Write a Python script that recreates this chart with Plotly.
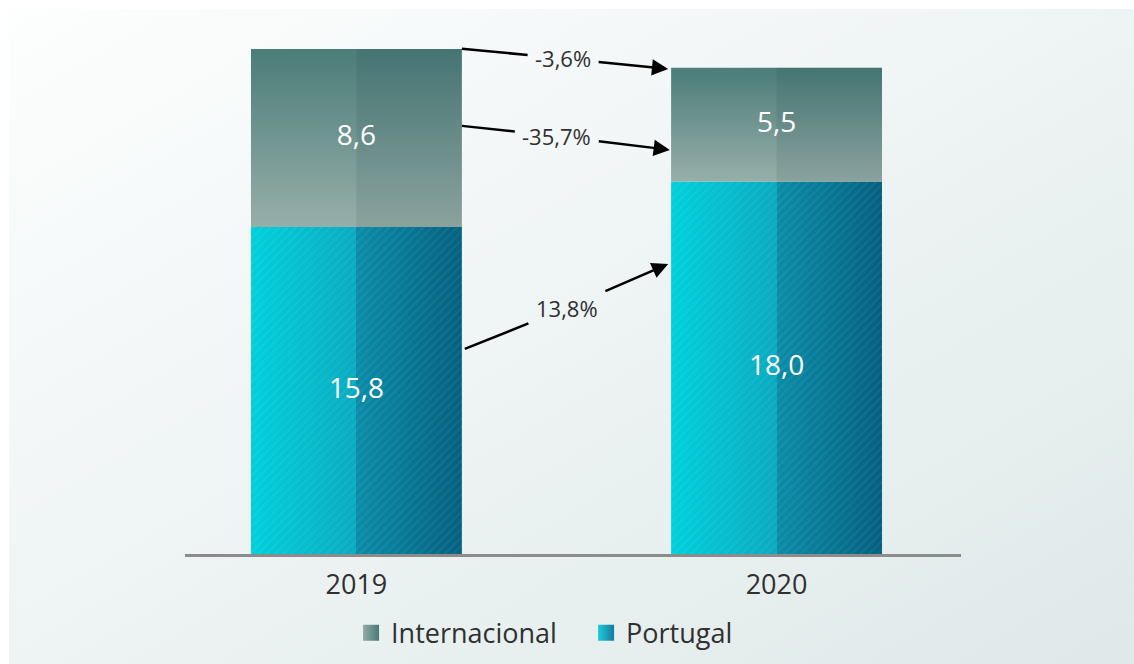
import base64
import numpy as np
import plotly.graph_objects as go

# ---- data -------------------------------------------------------------
years = ["2019", "2020"]
portugal = [15.8, 18.0]
internacional = [8.6, 5.5]

# growth labels: (text, tail point, label point, head point) in axis units
change_labels = ["-3,6%", "-35,7%", "13,8%"]
change_tail = [(0.251, 24.42), (0.251, 20.69), (0.258, 9.91)]
change_text = [(0.492, 23.95), (0.477, 20.20), (0.501, 11.89)]
change_head = [(0.742, 23.44), (0.746, 19.53), (0.742, 14.02)]

BAR_W = 0.502
FONT = "Open Sans"
TXT = "#303030"


def fmt(v):
    return f"{v:.1f}".replace(".", ",")


def rect(i, y0, y1, x0=None, x1=None):
    x0 = i - BAR_W / 2 if x0 is None else x0
    x1 = i + BAR_W / 2 if x1 is None else x1
    return [x0, x1, x1, x0, x0], [y0, y0, y1, y1, y0]


fig = go.Figure()

# legend entries (square swatches with a left-to-right gradient)
fig.add_trace(go.Scatter(
    x=[None], y=[None], mode="markers", name="Internacional",
    marker=dict(symbol="square", size=16, color="#93aaa5",
                gradient=dict(type="horizontal", color="#4a7a76")),
))
fig.add_trace(go.Scatter(
    x=[None], y=[None], mode="markers", name="Portugal",
    marker=dict(symbol="square", size=16, color="#1fcbdb",
                gradient=dict(type="horizontal", color="#157b9c")),
))

for i in range(len(years)):
    p = portugal[i]
    t = portugal[i] + internacional[i]

    # Portugal segment: cyan to deep teal, darker right half
    xs, ys = rect(i, 0, p)
    fig.add_trace(go.Scatter(
        x=xs, y=ys, mode="lines", line=dict(width=0), fill="toself",
        fillgradient=dict(type="horizontal", colorscale=[
            [0, "#00d0dc"], [0.5, "#09aac0"], [0.5, "#0a8ca8"], [1, "#04607f"]]),
        showlegend=False, hoverinfo="skip",
    ))
    # fine diagonal texture on Portugal
    fig.add_trace(go.Scatter(
        x=xs, y=ys, mode="lines", line=dict(width=0), fill="toself",
        fillcolor="rgba(0,0,0,0)",
        fillpattern=dict(shape="/", fgcolor="#ffffff", fgopacity=0.06,
                         bgcolor="rgba(0,0,0,0)", size=6, solidity=0.35),
        showlegend=False, hoverinfo="skip",
    ))

    # Internacional segment: vertical grey-green gradient
    xs, ys = rect(i, p, t)
    fig.add_trace(go.Scatter(
        x=xs, y=ys, mode="lines", line=dict(width=0), fill="toself",
        fillgradient=dict(type="vertical", colorscale=[
            [0, "#97aea9"], [1, "#4b7d79"]]),
        showlegend=False, hoverinfo="skip",
    ))
    # slightly darker right half
    xs, ys = rect(i, p, t, x0=i)
    fig.add_trace(go.Scatter(
        x=xs, y=ys, mode="lines", line=dict(width=0), fill="toself",
        fillcolor="rgba(0,30,40,0.08)",
        showlegend=False, hoverinfo="skip",
    ))

# values inside the segments
fig.add_trace(go.Scatter(
    x=list(range(len(years))) * 2,
    y=[v / 2 for v in portugal] + [p + v / 2 for p, v in zip(portugal, internacional)],
    text=[fmt(v) for v in portugal] + [fmt(v) for v in internacional],
    mode="text", textfont=dict(family=FONT, size=28, color="#ffffff"),
    showlegend=False, hoverinfo="skip",
))

# growth arrows: label breaks the line, head points at 2020 bar
for lab, tail, mid, head in zip(change_labels, change_tail, change_text, change_head):
    common = dict(xref="x", yref="y", axref="x", ayref="y",
                  ax=mid[0], ay=mid[1], text=lab, showarrow=True,
                  arrowcolor="#000000", arrowwidth=2.5, borderpad=7)
    fig.add_annotation(x=head[0], y=head[1], arrowhead=2, arrowsize=1.3,
                       font=dict(family=FONT, size=22, color=TXT), **common)
    fig.add_annotation(x=tail[0], y=tail[1], arrowhead=0,
                       font=dict(family=FONT, size=22, color="rgba(0,0,0,0)"), **common)

# soft diagonal panel background
svg = (
    '<svg xmlns="http://www.w3.org/2000/svg" width="1125" height="655" '
    'viewBox="0 0 1125 655" preserveAspectRatio="none">'
    '<defs><linearGradient id="g" x1="0" y1="0" x2="1" y2="1">'
    '<stop offset="0" stop-color="#fdfefe"/><stop offset="1" stop-color="#dfe9e9"/>'
    '</linearGradient></defs><rect width="1125" height="655" fill="url(#g)"/></svg>'
)
bg_uri = "data:image/svg+xml;base64," + base64.b64encode(svg.encode()).decode()

fig.add_layout_image(
    source=bg_uri, xref="paper", yref="paper",
    x=-0.2268, y=1.0130, sizex=1.4497, sizey=1.2175,
    xanchor="left", yanchor="top", sizing="stretch", layer="below",
)

fig.update_layout(
    width=1134, height=664,
    margin=dict(l=185, r=173, t=16, b=110, autoexpand=False),
    paper_bgcolor="#ffffff", plot_bgcolor="rgba(0,0,0,0)",
    font=dict(family=FONT, color=TXT),
    showlegend=True,
    legend=dict(orientation="h", x=0.214, y=-0.147, xanchor="left", yanchor="middle",
                font=dict(family=FONT, size=27, color=TXT),
                entrywidth=190, bgcolor="rgba(0,0,0,0)", traceorder="normal"),
    xaxis=dict(range=[-0.408, 1.439], tickvals=list(range(len(years))), ticktext=years,
               showgrid=False, zeroline=False, showline=True, linecolor="#8c8c8c",
               linewidth=3, ticks="", ticklabelstandoff=5,
               tickfont=dict(family=FONT, size=27, color=TXT), fixedrange=True),
    yaxis=dict(range=[0, 26], visible=False, showgrid=False, zeroline=False,
               fixedrange=True),
)

fig.write_html("out.html")
